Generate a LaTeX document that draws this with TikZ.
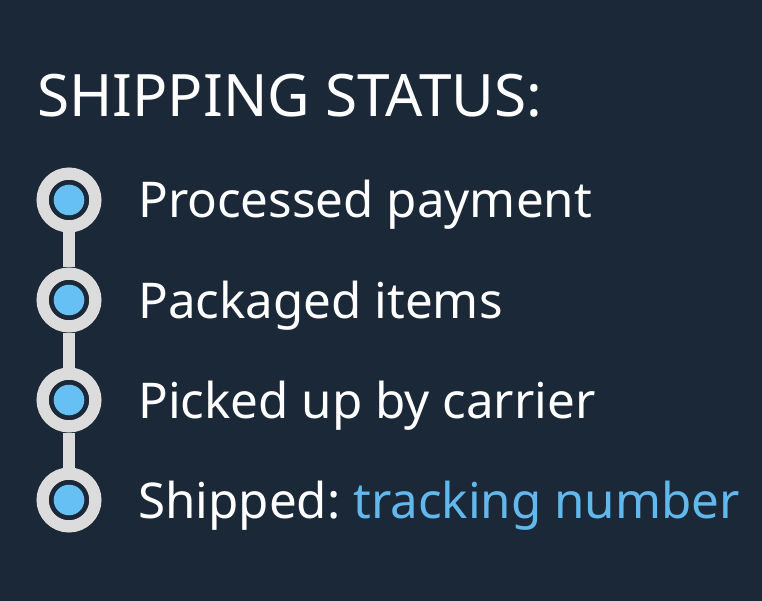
\documentclass[tikz,border=0pt]{standalone}
\usepackage{fontspec}
\setmainfont{Noto Sans}
\frenchspacing
\definecolor{bgnavy}{HTML}{1B2838}
\definecolor{ringgray}{HTML}{DCDCDC}
\definecolor{dotblue}{HTML}{66C0F4}
\definecolor{linkblue}{HTML}{62B8EC}
\begin{document}
\begin{tikzpicture}[x=1pt,y=-1pt,
  stepdot/.style={circle,draw=ringgray,line width=12.2pt,fill=bgnavy,minimum size=52.8pt,inner sep=0pt,
    path picture={\fill[dotblue] (path picture bounding box.center) circle (15.3pt);}},
  steplink/.style={draw=ringgray,line width=11.7pt},
  steplabel/.style={anchor=base west,text=white,font=\fontsize{49.3}{60}\selectfont\frenchspacing,inner sep=0pt},
  titletext/.style={anchor=base west,text=white,font=\fontsize{58.5}{70}\selectfont,inner sep=0pt}]
\fill[bgnavy] (0,0) rectangle (762,601);
\useasboundingbox (0,0) rectangle (762,601);
\node[titletext] (title) at (37,117) {SHIPPING STATUS:};
\node[stepdot] (c1) at (69,200) {};
\node[stepdot] (c2) at (69,300) {};
\node[stepdot] (c3) at (69,400) {};
\node[stepdot] (c4) at (69,500) {};
\draw[steplink] (c1) -- (c2);
\draw[steplink] (c2) -- (c3);
\draw[steplink] (c3) -- (c4);
\node[steplabel] (l1) at (138,218) {Processed payment};
\node[steplabel] (l2) at (138,318) {Packaged items};
\node[steplabel] (l3) at (138,418) {Picked up by carrier};
\node[steplabel] (l4) at (138,518) {Shipped: \textcolor{linkblue}{tracking number}};
\end{tikzpicture}
\end{document}
